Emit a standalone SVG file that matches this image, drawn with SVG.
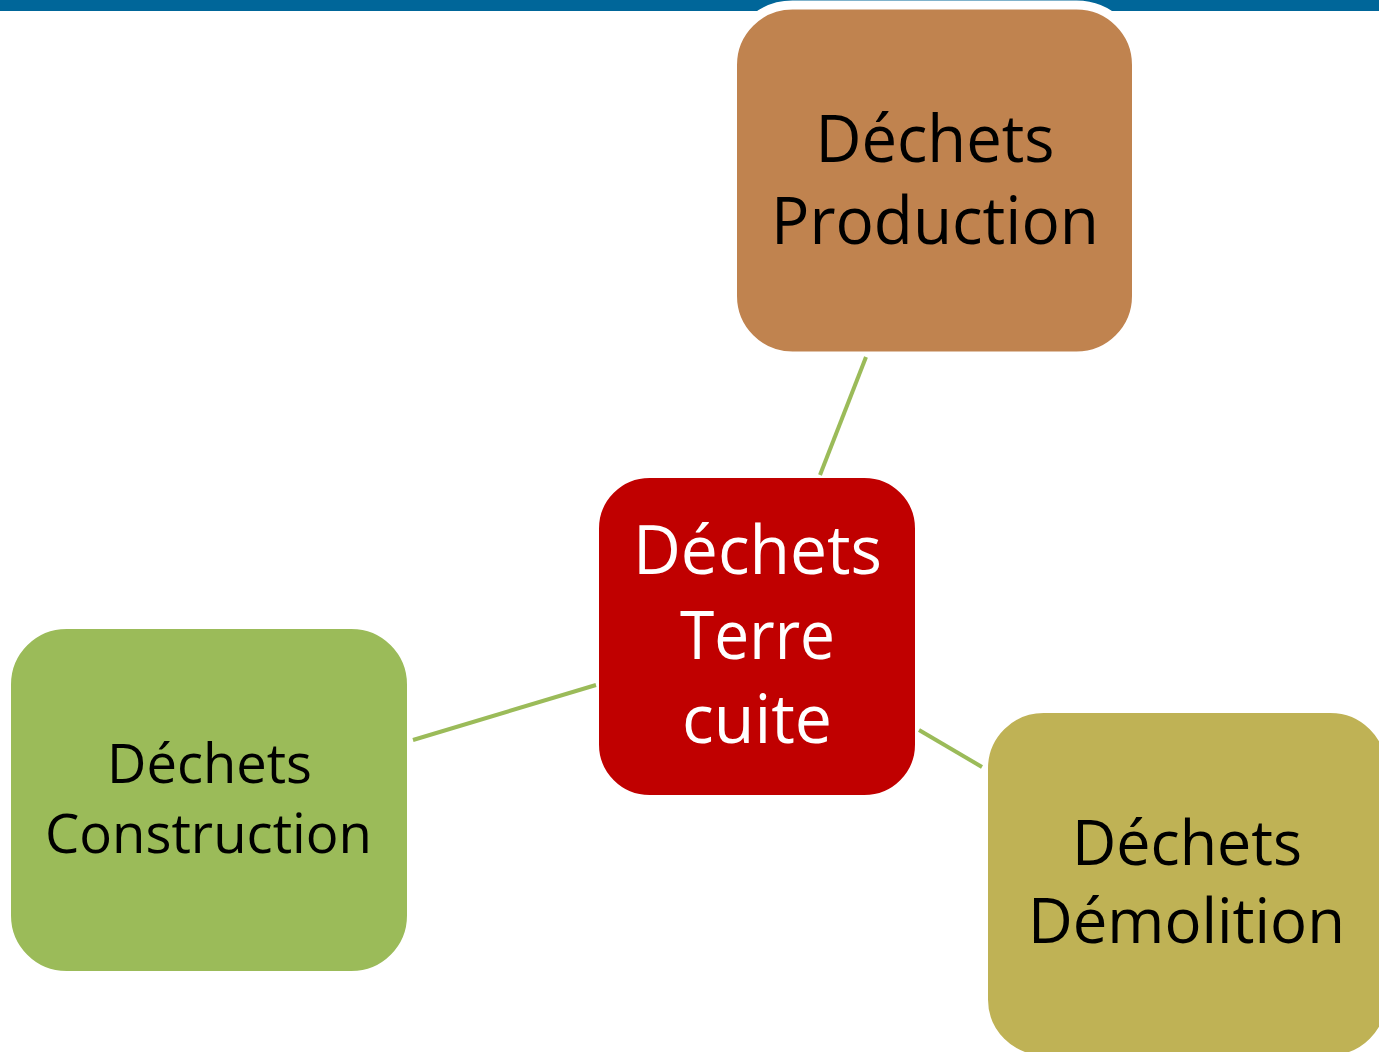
<svg xmlns="http://www.w3.org/2000/svg" width="1379" height="1052" viewBox="0 0 1379 1052">
<style>
.box{stroke:#FFFFFF;stroke-width:9}
.lbl{font-family:"Open Sans","Liberation Sans",sans-serif;text-anchor:middle}
.dark{fill:#000000}
.light{fill:#FFFFFF}
.conn{stroke:#9BBB59;stroke-width:4;fill:none}
</style>
<rect x="0" y="0" width="1379" height="1052" fill="#FFFFFF"/>
<rect x="0" y="0" width="1379" height="11" fill="#006699"/>
<g id="node-production">
<rect class="box" x="732.5" y="5" width="404" height="351" rx="60" fill="#C0834F"/>
<text class="lbl dark" font-size="66" x="935" y="162" textLength="239" lengthAdjust="spacingAndGlyphs">Déchets</text>
<text class="lbl dark" font-size="66" x="935" y="244" textLength="328" lengthAdjust="spacingAndGlyphs">Production</text>
</g>
<g id="node-center">
<rect class="box" x="594.5" y="473.5" width="325" height="326" rx="55" fill="#C00000"/>
<text class="lbl light" font-size="68" x="757.5" y="574" textLength="249" lengthAdjust="spacingAndGlyphs">Déchets</text>
<text class="lbl light" font-size="68" x="757.5" y="659" textLength="155" lengthAdjust="spacingAndGlyphs">Terre</text>
<text class="lbl light" font-size="68" x="757" y="743" textLength="150" lengthAdjust="spacingAndGlyphs">cuite</text>
</g>
<g id="node-construction">
<rect class="box" x="6.5" y="624.5" width="405" height="351" rx="60" fill="#9BBB59"/>
<text class="lbl dark" font-size="54" x="209.5" y="783" textLength="205" lengthAdjust="spacingAndGlyphs">Déchets</text>
<text class="lbl dark" font-size="54" x="208.5" y="853" textLength="327" lengthAdjust="spacingAndGlyphs">Construction</text>
</g>
<g id="node-demolition">
<rect class="box" x="983.5" y="708.5" width="407" height="351" rx="60" fill="#BFB255"/>
<text class="lbl dark" font-size="62" x="1187" y="865" textLength="230" lengthAdjust="spacingAndGlyphs">Déchets</text>
<text class="lbl dark" font-size="62" x="1186.5" y="943" textLength="317" lengthAdjust="spacingAndGlyphs">Démolition</text>
</g>
<g id="connectors">
<line class="conn" x1="866" y1="357" x2="820" y2="475"/>
<line class="conn" x1="413" y1="740" x2="596" y2="685"/>
<line class="conn" x1="919" y1="730" x2="982" y2="767"/>
</g>
</svg>
